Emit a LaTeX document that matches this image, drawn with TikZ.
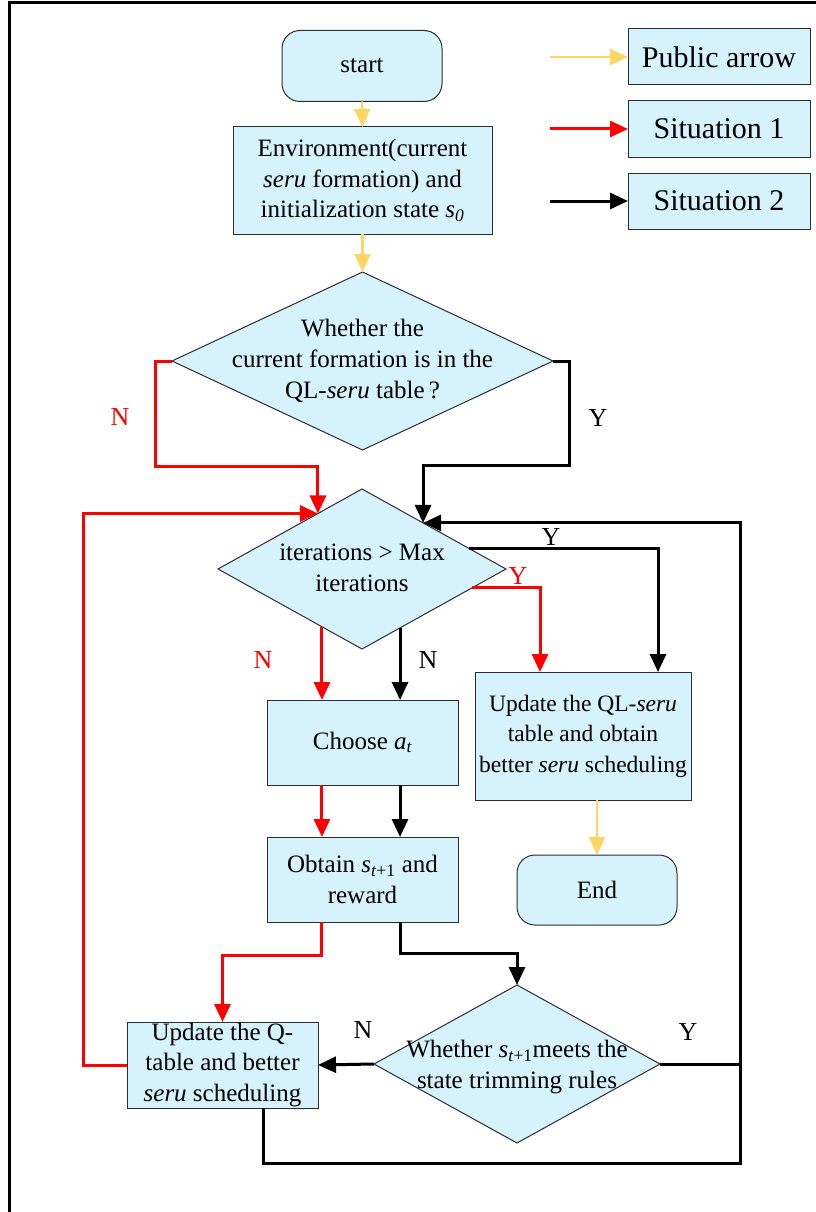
\documentclass[tikz,border=0pt]{standalone}
\usepackage{fontspec}
\setmainfont{Liberation Serif}
\usetikzlibrary{shapes.geometric,arrows.meta,calc}
\definecolor{boxfill}{RGB}{214,242,252}
\definecolor{pubyellow}{RGB}{255,214,102}
\definecolor{sitred}{RGB}{255,0,0}
\definecolor{edgegray}{RGB}{45,45,45}

\begin{document}
\begin{tikzpicture}[x=1pt,y=-1pt,
  base/.style={draw=edgegray, line width=1pt, fill=boxfill, inner sep=0pt, outer sep=0pt,
    align=center, font=\fontsize{25}{30.5}\selectfont},
  procbox/.style={base, rectangle},
  termbox/.style={base, rectangle, rounded corners=18pt},
  legbox/.style={base, rectangle, minimum width=182pt, minimum height=56pt,
    font=\fontsize{30}{34}\selectfont},
  decision/.style={base, diamond},
  dtext/.style={align=center, inner sep=0pt, font=\fontsize{25}{31}\selectfont},
  tip/.style={-{Triangle[length=18pt,width=16pt]}},
  pub/.style={draw=pubyellow, line width=2.3pt, tip},
  sitA/.style={draw=sitred, line width=3pt},
  sitB/.style={draw=black, line width=3pt},
  lab/.style={inner sep=0pt, font=\fontsize{26}{30}\selectfont},
]
\useasboundingbox (0,0) rectangle (816,1212);

% outer frame
\draw[line width=3pt] (9,1212) -- (9,3) -- (816,3);

% legend
\node[legbox] (lg1) at (719,57)  {Public arrow};
\node[legbox] (lg2) at (719,129) {Situation 1};
\node[legbox] (lg3) at (719,201) {Situation 2};
\coordinate (la1) at (550,57);
\coordinate (la2) at (550,129);
\coordinate (la3) at (550,201);
\draw[pub] (la1) -- (lg1.west);
\draw[sitA,tip] (la2) -- (lg2.west);
\draw[sitB,tip] (la3) -- (lg3.west);

% main flow
\node[termbox, minimum width=160pt, minimum height=71pt] (start) at (362,66) {start};
\node[procbox, minimum width=259pt, minimum height=107pt] (env) at (362.5,180.5)
  {Environment(current\\ \textit{seru} formation) and\\ initialization state \textit{s\textsubscript{0}}};
\node[decision, minimum width=381pt, minimum height=178pt] (d1) at (362.5,361) {};
\node[dtext] (d1t) at (362.5,361)
  {Whether the\\ current formation is in the\\ QL-\textit{seru} table\,?};
\node[decision, minimum width=288pt, minimum height=160pt] (d2) at (362,569) {};
\node[dtext] (d2t) at (362,568) {iterations > Max\\ iterations};
\node[procbox, minimum width=191pt, minimum height=85pt] (choose) at (362.5,742.5)
  {Choose \textit{a\textsubscript{t}}};
\node[procbox, minimum width=191pt, minimum height=85pt] (obtain) at (362.5,879.5)
  {Obtain \textit{s}\textsubscript{\textit{t}+1} and\\ reward};
\node[procbox, minimum width=216pt, minimum height=128pt,
  font=\fontsize{23.5}{30.5}\selectfont] (updql) at (583,736)
  {Update the QL-\textit{seru}\\ table and obtain\\ better \textit{seru} scheduling};
\node[termbox, minimum width=160pt, minimum height=70pt] (end) at (597,890) {End};
\node[decision, minimum width=286pt, minimum height=158pt] (d3) at (517,1064) {};
\node[dtext] (d3t) at (517,1067)
  {Whether \textit{s}\textsubscript{\textit{t}+1}meets the\\ state trimming rules};
\node[procbox, minimum width=191pt, minimum height=86pt] (updq) at (222.5,1065)
  {Update the Q-\\ table and better\\ \textit{seru} scheduling};

% points on the edges of the iteration check
\coordinate (d2nw) at ($(d2.west)!0.694!(d2.north)$);
\coordinate (d2ne) at ($(d2.north)!0.424!(d2.east)$);
\coordinate (d2yb) at ($(d2.north)!0.74!(d2.east)$);
\coordinate (d2yr) at ($(d2.east)!0.235!(d2.south)$);
\coordinate (d2nr) at ($(d2.west)!0.722!(d2.south)$);
\coordinate (d2nb) at ($(d2.south)!0.264!(d2.east)$);
\coordinate (qb) at ($(updq.south)+(40.5,0)$);
\coordinate (loopc) at (740,1163);

% public arrows
\draw[pub] (start.south) -- (env.north);
\draw[pub] (env.south) -- (d1.north);
\draw[pub] (updql.south -| end.north) -- (end.north);

% situation 1 (red)
\draw[sitA,tip] (d1.west) -- ++(-17,0) |- ($(d2nw)+(0,-47)$) -- (d2nw);
\draw[sitA,tip] (updq.west) -- ++(-44,0) |- (d2nw);
\draw[sitA,tip] (d2nr) -- (d2nr |- choose.north);
\draw[sitA,tip] (choose.south -| d2nr) -- (obtain.north -| d2nr);
\draw[sitA,tip] (obtain.south -| d2nr) -- ++(0,33) -| (updq.north);
\draw[sitA,tip] (d2yr) -| ($(updql.north)+(-43,0)$);

% situation 2 (black)
\draw[sitB,tip] (d1.east) -- ++(16,0) |- ($(d2ne)+(0,-57)$) -- (d2ne);
\draw[sitB,tip] (d2nb) -- (d2nb |- choose.north);
\draw[sitB,tip] (choose.south -| d2nb) -- (obtain.north -| d2nb);
\draw[sitB,tip] (obtain.south -| d2nb) -- ++(0,31) -| (d3.north);
\draw[sitB,tip] (d2yb) -| ($(updql.north)+(75,0)$);
\draw[sitB,tip] (d3.west) -- (updq.east);
\draw[sitB] (d3.east) -- (d3.east -| loopc);
\draw[sitB,tip] (qb) |- (loopc) -- (loopc |- d2ne) -- (d2ne);

% branch labels
\node[lab, text=sitred] (ln1) at (120,417) {N};
\node[lab] (ly1) at (598,418) {Y};
\node[lab] (ly2) at (551,537) {Y};
\node[lab, text=sitred] (ly3) at (518,576) {Y};
\node[lab, text=sitred] (ln2) at (263,660) {N};
\node[lab] (ln3) at (428,660) {N};
\node[lab] (ln4) at (363,1030) {N};
\node[lab] (ly4) at (688,1032) {Y};
\end{tikzpicture}
\end{document}
